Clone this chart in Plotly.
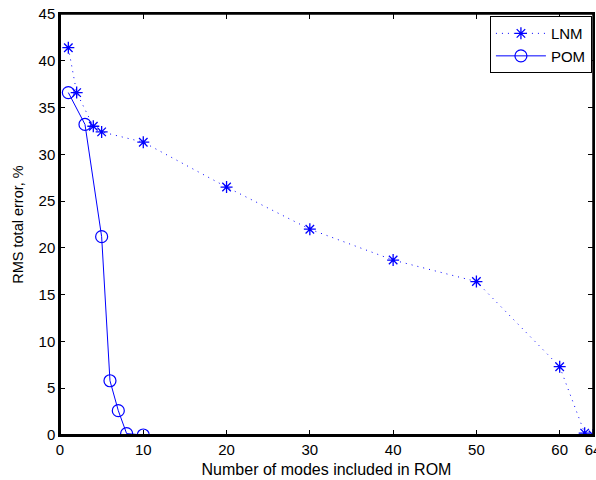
import plotly.graph_objects as go

lnm_x = [1, 2, 4, 5, 10, 20, 30, 40, 50, 60, 63, 64]
lnm_y = [41.4, 36.6, 33.0, 32.4, 31.3, 26.5, 22.0, 18.7, 16.4, 7.3, 0.2, 0.0]
pom_x = [1, 3, 5, 6, 7, 8, 10]
pom_y = [36.6, 33.2, 21.2, 5.8, 2.6, 0.15, 0.0]
x_ticks = [0, 10, 20, 30, 40, 50, 60, 64]
y_ticks = [0, 5, 10, 15, 20, 25, 30, 35, 40, 45]

blue = "#0000ff"
fam = "Liberation Sans, Arial, Helvetica, sans-serif"
fig = go.Figure()
fig.add_trace(go.Scatter(
    x=lnm_x, y=lnm_y, name="LNM", mode="lines+markers",
    line=dict(color=blue, width=1, dash="1px,5px"),
    marker=dict(symbol="asterisk-open", size=10, color=blue, line=dict(color=blue, width=1.3)),
))
fig.add_trace(go.Scatter(
    x=pom_x, y=pom_y, name="POM", mode="lines+markers",
    line=dict(color=blue, width=1),
    marker=dict(symbol="circle-open", size=12, color=blue, line=dict(color=blue, width=1.2)),
))

tfont = dict(family=fam, size=15, color="black")
axis_common = dict(
    showgrid=False, zeroline=False, showline=True, linecolor="black", linewidth=1.5,
    mirror="ticks", ticks="inside", ticklen=5, tickcolor="black", tickwidth=1,
    tickfont=tfont, ticklabeloverflow="allow", automargin=False,
)
fig.update_xaxes(range=[0, 64], tickvals=x_ticks, ticktext=[str(v) for v in x_ticks],
                 title=dict(text="Number of modes included in ROM", font=dict(size=16, family=fam, color="black"), standoff=7),
                 **axis_common)
fig.update_yaxes(range=[0, 45], tickvals=y_ticks, ticktext=[str(v) for v in y_ticks],
                 title=dict(text="RMS total error, %", font=dict(size=14.5, family=fam, color="black"), standoff=11),
                 **axis_common)

# axes box lines: thinner top/right, thicker left/bottom
fig.add_shape(type="line", xref="paper", yref="paper", x0=0, x1=1, y0=1, y1=1,
              line=dict(color="black", width=1.5))
fig.add_shape(type="line", xref="paper", yref="paper", x0=1, x1=1, y0=0, y1=1,
              line=dict(color="black", width=1.5))
fig.add_shape(type="line", xref="paper", yref="paper", x0=0, x1=1, y0=0, y1=0,
              line=dict(color="black", width=2))
fig.add_shape(type="line", xref="paper", yref="paper", x0=0, x1=0, y0=0, y1=1,
              line=dict(color="black", width=2))

fig.update_layout(
    width=596, height=480,
    margin=dict(l=60, r=3, t=14, b=45, autoexpand=False),
    paper_bgcolor="white", plot_bgcolor="white",
    font=tfont,
    showlegend=True,
    legend=dict(x=0.998, y=0.995, xanchor="right", yanchor="top",
                bgcolor="white", bordercolor="black", borderwidth=1,
                font=dict(size=15, family=fam, color="black"),
                tracegroupgap=0, itemwidth=50),
)

fig.write_html(
    "out.html",
    config={"displayModeBar": False},
    post_script="document.body.style.margin='0';document.body.style.overflow='hidden';",
)
